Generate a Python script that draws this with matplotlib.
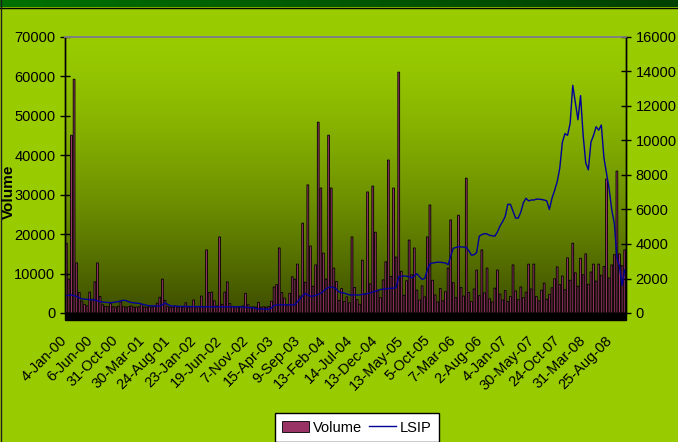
import numpy as np
import matplotlib
matplotlib.use("Agg")
import matplotlib.pyplot as plt
from matplotlib.patches import Rectangle
from matplotlib.transforms import ScaledTranslation

plt.rcParams['font.family'] = ['Liberation Sans', 'DejaVu Sans']

# tick labels shown every 10 points on the category axis
date_labels = ["4-Jan-00", "6-Jun-00", "31-Oct-00", "30-Mar-01", "24-Aug-01", "23-Jan-02",
               "19-Jun-02", "7-Nov-02", "15-Apr-03", "9-Sep-03", "13-Feb-04", "14-Jul-04",
               "13-Dec-04", "13-May-05", "5-Oct-05", "7-Mar-06", "2-Aug-06", "4-Jan-07",
               "30-May-07", "24-Oct-07", "31-Mar-08", "25-Aug-08"]

# volume (left axis)
volume = [17700, 8600, 45100, 59300, 12700, 5200, 3000, 2200, 1800, 5300,
          3500, 7900, 12700, 4200, 2100, 1700, 1600, 2400, 1600, 1500,
          1700, 2800, 1600, 1500, 1600, 1800, 1500, 1500, 1600, 2200,
          1500, 1500, 1600, 1500, 1700, 2500, 4000, 8600, 3200, 1600,
          1500, 1500, 1800, 1500, 1600, 1500, 2600, 1500, 1600, 3300,
          1500, 1700, 4300, 1600, 16000, 5200, 5300, 3100, 1800, 19300,
          2200, 5300, 7900, 2400, 1700, 1600, 1500, 1600, 1800, 5000,
          2100, 1500, 1600, 1500, 2700, 1500, 1600, 1500, 1700, 3000,
          6600, 7200, 16500, 5200, 3800, 2000, 5000, 9200, 8600, 12400,
          4300, 22800, 7800, 32500, 17000, 6800, 12200, 48400, 31700, 15200,
          8600, 45100, 31700, 11400, 8000, 3200, 6200, 2900, 4100, 2600,
          19300, 6500, 3400, 2200, 13400, 4800, 30700, 7400, 32200, 20500,
          5600, 3900, 8400, 13000, 38800, 9300, 31700, 14200, 61100, 10600,
          4500, 8200, 18500, 9700, 16500, 5800, 3300, 6900, 4100, 19300,
          27400, 8300, 4600, 2800, 6200, 3100, 5400, 11400, 23600, 7700,
          3900, 24800, 6500, 4300, 34200, 5200, 2900, 6100, 10900, 4400,
          16000, 5100, 11400, 3600, 2800, 6300, 10900, 4800, 3300, 5700,
          2900, 4200, 12200, 5600, 3400, 6600, 3900, 5300, 12400, 6100,
          12400, 4200, 3100, 5800, 7600, 3500, 4700, 6400, 8700, 11700,
          7200, 9400, 5900, 14000, 8300, 17700, 10200, 6800, 13900, 9700,
          15000, 7300, 10400, 12400, 8100, 12400, 9600, 11800, 34000, 8900,
          12200, 14800, 36000, 15000, 12000, 16000]

# LSIP index (right axis)
lsip = [1000, 1030, 1050, 1010, 960, 880, 820, 800, 790, 780,
        770, 750, 700, 650, 640, 620, 610, 600, 610, 640,
        660, 700, 740, 720, 650, 610, 590, 570, 560, 520,
        480, 450, 420, 415, 410, 405, 400, 480, 580, 500,
        420, 400, 390, 385, 380, 378, 375, 372, 370, 372,
        370, 368, 370, 365, 362, 360, 365, 362, 360, 360,
        362, 360, 358, 360, 362, 360, 358, 360, 345, 330,
        320, 310, 300, 260, 235, 230, 228, 225, 222, 300,
        440, 460, 470, 480, 480, 475, 470, 470, 480, 650,
        820, 1000, 1130, 1050, 970, 980, 1020, 1080, 1150, 1260,
        1400, 1480, 1500, 1480, 1380, 1220, 1180, 1150, 1100, 1050,
        1040, 1060, 1040, 1050, 1080, 1100, 1130, 1160, 1220, 1260,
        1320, 1360, 1380, 1400, 1420, 1430, 1440, 1480, 2100, 2120,
        2150, 2130, 2100, 2050, 2150, 2280, 2100, 1950, 2000, 2500,
        2850, 2900, 2920, 2950, 2940, 2920, 2900, 2800, 3300, 3750,
        3800, 3850, 3830, 3820, 3800, 3600, 3350, 3380, 3500, 4450,
        4550, 4600, 4580, 4500, 4480, 4450, 4700, 5050, 5300, 5600,
        6300, 6300, 5900, 5500, 5500, 5850, 6400, 6650, 6500, 6550,
        6550, 6600, 6600, 6580, 6550, 6500, 6000, 6650, 7100, 7600,
        8400, 9900, 10400, 10300, 11000, 13200, 12200, 11200, 12600, 10300,
        8700, 8300, 9900, 10300, 10800, 10600, 10900, 9000, 8100, 7200,
        6000, 5200, 3200, 2700, 1600, 2500]

x = np.arange(len(volume))

fig = plt.figure(figsize=(6.78, 4.42), dpi=100)
fig.patch.set_facecolor('#99CC00')

# dark green strip along the top edge
top = fig.add_axes([0, 1 - 7 / 442, 1, 7 / 442])
top.imshow(np.linspace(0, 1, 200).reshape(1, -1), aspect='auto',
           cmap=matplotlib.colors.LinearSegmentedColormap.from_list('g', ['#007000', '#004000']))
top.axis('off')
fig.add_artist(plt.Line2D([0, 1], [1 - 7.5 / 442, 1 - 7.5 / 442], color='black', lw=1))
fig.add_artist(plt.Line2D([0.5 / 678, 0.5 / 678], [0, 1], color='#202020', lw=1))

pos = [65 / 678, 129 / 442, 561 / 678, 276 / 442]

# plot area gradient, light at top, dark olive at the bottom
bg = fig.add_axes(pos, zorder=-1)
t = np.linspace(0, 1, 256) ** 1.4
top_c = np.array([153, 204, 0]) / 255
bot_c = np.array([62, 78, 0]) / 255
grad = top_c[None, :] * (1 - t[:, None]) + bot_c[None, :] * t[:, None]
bg.imshow(grad[:, None, :], aspect='auto', extent=[0, 1, 0, 1])
bg.axis('off')

ax = fig.add_axes(pos)
ax.patch.set_visible(False)
ax.bar(x, volume, width=0.7, color='#993366', edgecolor='black', linewidth=0.6,
       snap=False, label='Volume')
ax.set_xlim(-0.5, len(volume) - 0.5)
ax.set_ylim(0, 70000)
ax.set_yticks(range(0, 70001, 10000))
ax.set_xticks(x[::10])
ax.set_xticklabels(date_labels, rotation=45, ha='right', rotation_mode='anchor', fontsize=10.5)
ax.tick_params(axis='x', length=0, pad=16)
ax.tick_params(axis='y', direction='inout', length=7, width=1, labelsize=10.5)
shift = ScaledTranslation(-7 / 100, 2 / 100, fig.dpi_scale_trans)
for lbl in ax.get_xticklabels():
    lbl.set_transform(lbl.get_transform() + shift)

# dense category tick marks below the axis show up as a black band
ax.add_patch(Rectangle((0, -0.025), 1, 0.025, transform=ax.transAxes,
                       color='black', clip_on=False, zorder=3))

ax2 = ax.twinx()
ax2.plot(x, lsip, color='#000099', lw=1.0, label='LSIP')
ax2.set_ylim(0, 16000)
ax2.set_yticks(range(0, 16001, 2000))
ax2.tick_params(axis='y', direction='inout', length=7, width=1, labelsize=10.5)

for a in (ax, ax2):
    a.spines['top'].set_color('#808080')
    a.spines['top'].set_linewidth(1.2)
    a.spines['bottom'].set_visible(False)
    a.spines['left'].set_linewidth(1)
    a.spines['right'].set_linewidth(1)

fig.text(9 / 678, 1 - 192 / 442, "Volume", rotation=90, fontsize=11, fontweight='bold',
         ha='center', va='center')

h1, l1 = ax.get_legend_handles_labels()
h2, l2 = ax2.get_legend_handles_labels()
leg = fig.legend(h1 + h2, l1 + l2, loc='upper center', bbox_to_anchor=(357 / 678, 1 - 406 / 442),
                 ncol=2, fontsize=10.5, frameon=True, fancybox=False, handlelength=1.8,
                 handletextpad=0.3, columnspacing=0.5, borderpad=0.5)
leg.get_frame().set_edgecolor('black')
leg.get_frame().set_linewidth(1)
leg.get_frame().set_facecolor('white')
leg.get_frame().set_alpha(1)

fig.savefig("out.png", dpi=100, facecolor=fig.get_facecolor())
